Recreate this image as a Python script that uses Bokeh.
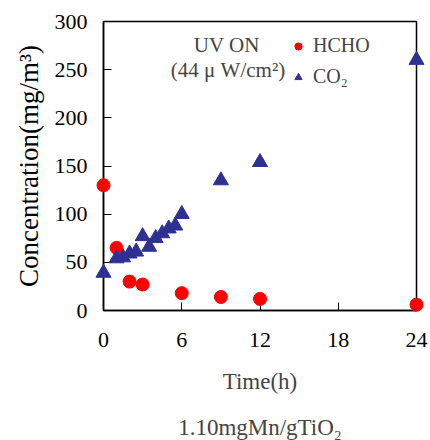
from bokeh.plotting import figure
from bokeh.models import FixedTicker, Legend, LegendItem, Label, Title
from bokeh.embed import file_html
from bokeh.resources import INLINE

# data
hcho_t = [0, 1, 2, 3, 6, 9, 12, 24]
hcho_v = [130, 65, 30, 27, 18, 14, 12, 6]
co2_t = [0, 1, 1.5, 2, 2.5, 3, 3.5, 4, 4.5, 5, 5.5, 6, 9, 12, 24]
co2_v = [39, 54, 55, 59, 61, 77, 66, 75, 80, 85, 88, 100, 135, 154, 260]
x_ticks = [0, 6, 12, 18, 24]
y_ticks = [0, 50, 100, 150, 200, 250, 300]

FONT = "Liberation Serif"
RED = "#FF0000"
BLUE = "#2E3192"

p = figure(width=430, height=440, output_backend="svg", toolbar_location=None,
           x_range=(0, 24), y_range=(0, 300),
           min_border_left=103, min_border_right=14, min_border_top=21, min_border_bottom=128)
p.background_fill_color = "white"
p.border_fill_color = "white"
p.grid.visible = False
p.outline_line_color = "black"
p.outline_line_width = 1.5
p.outline_line_alpha = 1

for ax in (p.xaxis[0], p.yaxis[0]):
    ax.major_tick_in = 8
    ax.major_tick_out = 0
    ax.minor_tick_line_color = None
    ax.axis_line_width = 1.5
    ax.major_tick_line_width = 1
    ax.major_label_text_font = FONT
    ax.major_label_text_font_size = "22px"
    ax.major_label_text_color = "black"
    ax.axis_label_text_font = FONT
    ax.axis_label_text_font_style = "normal"
    ax.axis_label_text_color = "black"

p.xaxis.ticker = FixedTicker(ticks=x_ticks)
p.yaxis.ticker = FixedTicker(ticks=y_ticks)
p.xaxis.major_label_standoff = 22
p.yaxis.major_label_standoff = 16
p.yaxis.axis_label = "Concentration(mg/m\u00b3)"
p.yaxis.axis_label_text_font_size = "27px"
p.yaxis.axis_label_text_font_style = "normal"
p.yaxis.axis_label_standoff = 8

r1 = p.scatter(hcho_t, hcho_v, marker="circle", size=13, fill_color=RED, line_color=RED, level="overlay")
r2 = p.scatter(co2_t, co2_v, marker="triangle", size=15, fill_color=BLUE, line_color=BLUE, level="overlay")

legend = Legend(items=[LegendItem(label="HCHO", renderers=[r1]),
                       LegendItem(label="CO\u2082", renderers=[r2])],
                location=(186, 222), background_fill_alpha=0, border_line_color=None,
                label_text_font=FONT, label_text_font_size="20px",
                glyph_width=18, glyph_height=18, label_height=22, spacing=8,
                label_standoff=6, padding=0, margin=0)
p.add_layout(legend)

p.add_layout(Label(x=9.45, y=276, text="UV ON", text_align="center", text_baseline="middle",
                   text_font=FONT, text_font_size="21px"))
p.add_layout(Label(x=9.55, y=250, text="(44 \u03bc W/cm\u00b2)", text_align="center", text_baseline="middle",
                   text_font=FONT, text_font_size="21px"))

t1 = Title(text="Time(h)", align="center", text_font=FONT, text_font_size="23px",
           text_font_style="normal", standoff=35, offset=0)
p.add_layout(t1, "below")
t2 = Title(text="1.10mgMn/gTiO\u2082", align="center", text_font=FONT, text_font_size="23px",
           text_font_style="normal", standoff=2, offset=0)
p.add_layout(t2, "below")

open("out.html", "w").write(file_html(p, INLINE))
